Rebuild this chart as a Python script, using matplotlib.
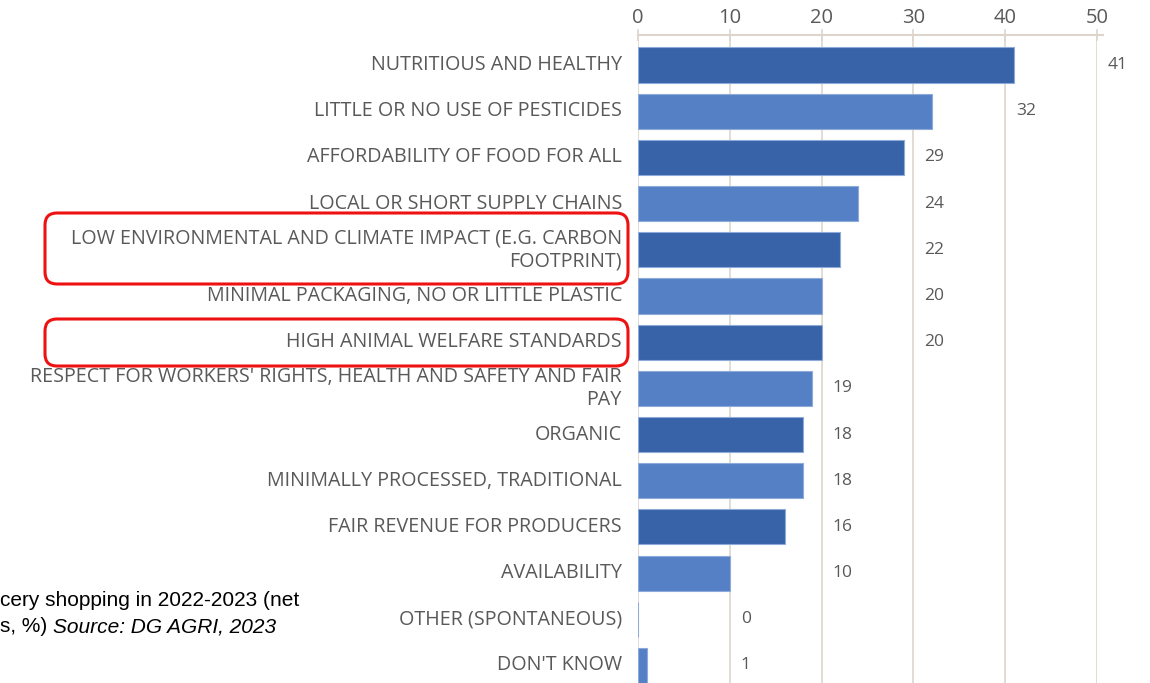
import matplotlib.pyplot as plt
from matplotlib.patches import FancyBboxPatch
from matplotlib.transforms import IdentityTransform

categories = [
    "NUTRITIOUS AND HEALTHY",
    "LITTLE OR NO USE OF PESTICIDES",
    "AFFORDABILITY OF FOOD FOR ALL",
    "LOCAL OR SHORT SUPPLY CHAINS",
    "LOW ENVIRONMENTAL AND CLIMATE IMPACT (E.G. CARBON\nFOOTPRINT)",
    "MINIMAL PACKAGING, NO OR LITTLE PLASTIC",
    "HIGH ANIMAL WELFARE STANDARDS",
    "RESPECT FOR WORKERS' RIGHTS, HEALTH AND SAFETY AND FAIR\nPAY",
    "ORGANIC",
    "MINIMALLY PROCESSED, TRADITIONAL",
    "FAIR REVENUE FOR PRODUCERS",
    "AVAILABILITY",
    "OTHER (SPONTANEOUS)",
    "DON'T KNOW",
]
values = [41, 32, 29, 24, 22, 20, 20, 19, 18, 18, 16, 10, 0, 1]
ticks = [0, 10, 20, 30, 40, 50]

dark = '#3863a8'
light = '#5580c6'
grey = '#595959'
grid_c = '#ddd5cc'

W, H = 1150, 683
fig = plt.figure(figsize=(W / 100, H / 100), dpi=100)
ax = fig.add_axes([638 / W, 0, (1097 - 638) / W, 1 - 35 / H])

colors = [dark if i % 2 == 0 else light for i in range(len(values))]
ypos = list(range(len(values)))
ax.barh(ypos, values, height=0.76, color=colors, edgecolor='#8eaad8', linewidth=0.8, zorder=3)

ax.set_xlim(0, 50)
ax.set_ylim(13.38, -0.65)

for t in ticks:
    ax.axvline(t, color=grid_c, lw=1.2, zorder=1)
ax.plot([0, 50.7], [-0.65, -0.65], color=grid_c, lw=1.5, clip_on=False, zorder=2)
for t in ticks:
    ax.plot([t, t], [-0.76, -0.54], color=grid_c, lw=1.2, clip_on=False, zorder=2)

for s in ax.spines.values():
    s.set_visible(False)
ax.xaxis.tick_top()
ax.set_xticks(ticks)
ax.set_xticklabels([str(t) for t in ticks], fontsize=14.5, color=grey, family='Open Sans')
ax.tick_params(axis='x', length=0, pad=5)
ax.set_yticks([])

# category labels
for y, c in zip(ypos, categories):
    ax.text(-1.75, y, c, ha='right', va='center', ma='right', fontsize=14.2,
            color=grey, family='Open Sans', linespacing=1.2)

# value labels sit just past the next gridline
for y, v in zip(ypos, values):
    ax.text((v // 10) * 10 + 11.2, y, str(v), ha='left', va='center',
            fontsize=12.5, color=grey, family='Open Sans')

# red highlight frames
frames = [(45, 213, 628, 284), (45, 319, 628, 366)]
for x0, y0, x1, y1 in frames:
    box = FancyBboxPatch((x0, H - y1), x1 - x0, y1 - y0,
                         boxstyle='round,pad=0,rounding_size=12',
                         transform=IdentityTransform(), fill=False,
                         edgecolor='#ee1111', linewidth=2.2)
    fig.patches.append(box)

# cropped caption
fig.text(0, 1 - 601 / H, "cery shopping in 2022-2023 (net", fontsize=15,
         family='Liberation Sans', color='black', va='center')
t1 = fig.text(0, 1 - 627 / H, "s, %) ", fontsize=15,
              family='Liberation Sans', color='black', va='center')
fig.canvas.draw()
bb = t1.get_window_extent()
fig.text(bb.x1 / W, 1 - 627 / H, "Source: DG AGRI, 2023", fontsize=15,
         family='Liberation Sans', style='italic', color='black', va='center')

fig.savefig('out.png', dpi=100)
